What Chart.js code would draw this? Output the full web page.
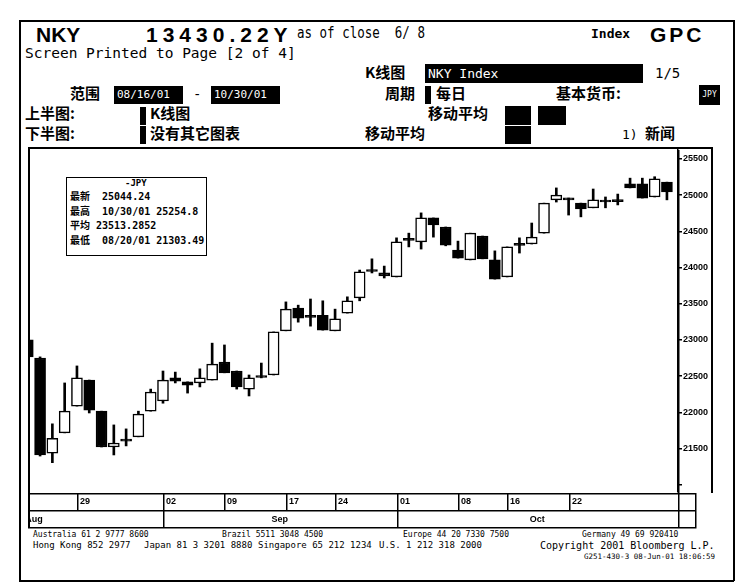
<!DOCTYPE html>
<html>
<head>
<meta charset="utf-8">
<script src="https://cdn.jsdelivr.net/npm/chart.js@4.4.0/dist/chart.umd.min.js"></script>
<style>
body { margin: 0; background: #fff; }
#page { position: relative; width: 750px; height: 588px; overflow: hidden; color: #000;
        font-family: "DejaVu Sans Mono", "Noto Sans CJK SC", monospace; }
#page .t { position: absolute; white-space: nowrap; line-height: 1; }
#page .cn { font-family: "Noto Sans CJK SC", sans-serif; font-weight: 700; font-size: 15px; }
#page .box { position: absolute; background: #000; color: #fff; overflow: hidden; white-space: nowrap; }
#page .ln { position: absolute; background: #000; }
#chart { position: absolute; left: 0; top: 0; }
</style>
</head>
<body>
<div id="page">
  <!-- page frame -->
  <div class="ln" style="left:19px;top:20px;width:715px;height:1.5px"></div>
  <div class="ln" style="left:19px;top:580px;width:715px;height:1.5px"></div>
  <div class="ln" style="left:19px;top:20px;width:1.5px;height:561px"></div>
  <div class="ln" style="left:733px;top:20px;width:1.5px;height:561px"></div>

  <!-- header -->
  <div class="t" style="left:36px;top:23px;font:bold 21px 'Liberation Sans',sans-serif">NKY</div>
  <div class="t" style="left:146px;top:23px;font:bold 21px 'Liberation Sans',sans-serif;letter-spacing:5px">13430.22Y</div>
  <div class="t" style="left:297px;top:26px;font-size:12.5px;transform:scaleY(1.2);transform-origin:top left">as of close&nbsp; 6/ 8</div>
  <div class="t" style="left:591px;top:27px;font-size:13px;font-weight:bold">Index</div>
  <div class="t" style="left:650px;top:23px;font:bold 21px 'Liberation Sans',sans-serif;letter-spacing:3px">GPC</div>
  <div class="t" style="left:25px;top:46px;font-size:14.5px">Screen Printed to Page [2 of 4]</div>

  <div class="t cn" style="left:365px;top:64px">K线图</div>
  <div class="box" style="left:425px;top:64px;width:215px;height:19px;font-size:13px;line-height:19px;padding-left:3px">NKY Index</div>
  <div class="t" style="left:655px;top:66px;font-size:14px">1/5</div>

  <div class="t cn" style="left:70px;top:85px">范围</div>
  <div class="box" style="left:114px;top:86px;width:66px;height:18px;font-size:11px;line-height:18px;padding-left:3px">08/16/01</div>
  <div class="t" style="left:193px;top:87px;font-size:14px">-</div>
  <div class="box" style="left:211px;top:86px;width:66px;height:18px;font-size:11px;line-height:18px;padding-left:3px">10/30/01</div>
  <div class="t cn" style="left:385px;top:85px">周期</div>
  <div class="box" style="left:425px;top:86px;width:6px;height:18px"></div>
  <div class="t cn" style="left:436px;top:85px">每日</div>
  <div class="t cn" style="left:556px;top:85px">基本货币:</div>
  <div class="box" style="left:699px;top:85px;width:21px;height:20px;font-size:8px;line-height:20px;text-align:center">JPY</div>

  <div class="t cn" style="left:25px;top:105px">上半图:</div>
  <div class="box" style="left:140px;top:107px;width:6px;height:18px"></div>
  <div class="t cn" style="left:150px;top:105px">K线图</div>
  <div class="t cn" style="left:428px;top:105px">移动平均</div>
  <div class="box" style="left:505px;top:106px;width:26px;height:19px"></div>
  <div class="box" style="left:538px;top:106px;width:28px;height:19px"></div>

  <div class="t cn" style="left:25px;top:125px">下半图:</div>
  <div class="box" style="left:140px;top:126px;width:6px;height:18px"></div>
  <div class="t cn" style="left:150px;top:125px">没有其它图表</div>
  <div class="t cn" style="left:365px;top:125px">移动平均</div>
  <div class="box" style="left:505px;top:126px;width:26px;height:18px"></div>
  <div class="t" style="left:622px;top:128px;font-size:13px">1)</div>
  <div class="t cn" style="left:645px;top:125px">新闻</div>

  <!-- chart frame -->
  <div class="ln" style="left:28px;top:147px;width:685px;height:1.5px"></div>
  <div class="ln" style="left:28px;top:147px;width:1.5px;height:381px"></div>
  <div class="ln" style="left:711px;top:147px;width:1.5px;height:346px"></div>

  <!-- info box -->
  <div style="position:absolute;left:66px;top:177px;width:139px;height:77px;border:1.5px solid #000"></div>
  <div class="t" style="left:125px;top:179px;font-size:9px;font-weight:bold">-JPY</div>
  <div class="t" style="left:70px;top:192px;font-size:10px;font-weight:bold">最新&nbsp; 25044.24</div>
  <div class="t" style="left:70px;top:207px;font-size:10px;font-weight:bold">最高&nbsp; 10/30/01 25254.8</div>
  <div class="t" style="left:70px;top:221px;font-size:10px;font-weight:bold">平均 23513.2852</div>
  <div class="t" style="left:70px;top:236px;font-size:10px;font-weight:bold">最低&nbsp; 08/20/01 21303.49</div>

  <!-- footer -->
  <div class="t" style="left:33px;top:531px;font-size:8px">Australia 61 2 9777 8600</div>
  <div class="t" style="left:222px;top:531px;font-size:8px">Brazil 5511 3048 4500</div>
  <div class="t" style="left:403px;top:531px;font-size:8px">Europe 44 20 7330 7500</div>
  <div class="t" style="left:582px;top:531px;font-size:8px">Germany 49 69 920410</div>
  <div class="t" style="left:33px;top:541px;font-size:9px">Hong Kong 852 2977</div>
  <div class="t" style="left:144px;top:541px;font-size:9px">Japan 81 3 3201 8880</div>
  <div class="t" style="left:258px;top:541px;font-size:9px">Singapore 65 212 1234</div>
  <div class="t" style="left:379px;top:541px;font-size:9px">U.S. 1 212 318 2000</div>
  <div class="t" style="left:540px;top:541px;font-size:10px">Copyright 2001 Bloomberg L.P.</div>
  <div class="t" style="left:584px;top:553px;font-size:7.5px">G251-430-3 08-Jun-01 18:06:59</div>

  <canvas id="chart" width="750" height="588"></canvas>
</div>

<script>
// daily candles, index 0 is cut by the left edge
var opens  = [23000, 22750, 21435, 21715, 22085, 22445, 22015, 21520, 21600, 21660,
              22015, 22155, 22475, 22420, 22405, 22445, 22695, 22570, 22320, 22480,
              22515, 23125, 23440, 23310, 23340, 23125, 23370, 23580, 23945, 23925,
              23870, 24375, 24355, 24685, 24560, 24240, 24105, 24435, 24105, 23870,
              24305, 24325, 24475, 24935, 24960, 24890, 24825, 24905, 24910, 25155,
              25155, 24975, 25180];
var highs  = [23095, 22765, 21840, 22405, 22640, 22445, 22015, 21825, 21770, 22015,
              22320, 22570, 22555, 22420, 22600, 22955, 22930, 22570, 22515, 22680,
              23110, 23525, 23480, 23565, 23540, 23425, 23595, 23965, 24120, 24020,
              24410, 24475, 24755, 24685, 24560, 24365, 24475, 24435, 24230, 24285,
              24410, 24615, 24890, 25100, 24960, 24890, 25085, 24975, 25015, 25235,
              25235, 25254.8, 25180];
var lows   = [22765, 21395, 21303.49, 21715, 22085, 21990, 21520, 21410, 21535, 21660,
              22015, 22125, 22405, 22265, 22350, 22445, 22545, 22320, 22225, 22475,
              22515, 23125, 23245, 23190, 23135, 23125, 23370, 23540, 23925, 23855,
              23870, 24285, 24255, 24420, 24300, 24130, 24105, 24120, 23840, 23870,
              24200, 24325, 24475, 24905, 24725, 24700, 24825, 24825, 24865, 25100,
              24960, 24975, 24935];
var closes = [22765, 21410, 21640, 22015, 22475, 22030, 21520, 21575, 21600, 21975,
              22280, 22445, 22430, 22375, 22475, 22665, 22545, 22350, 22475, 22480,
              23110, 23425, 23300, 23310, 23135, 23290, 23540, 23940, 23945, 23885,
              24355, 24375, 24685, 24590, 24310, 24130, 24475, 24120, 23840, 24285,
              24305, 24420, 24890, 25000, 24935, 24810, 24935, 24905, 24910, 25100,
              24960, 25225, 25044.24];

// date axis rows
var dayLabels = ['29', '02', '09', '17', '24', '01', '08', '16', '22'];
var dayIndex = [4, 11, 16, 21, 25, 30, 35, 39, 44];
var monthLabels = ['Aug', 'Sep', 'Oct'];
var monthStart = [-10, 11, 30];

// price axis
var yTicks = [21000, 21500, 22000, 22500, 23000, 23500, 24000, 24500, 25000, 25500];
var yTickLabels = ['', '21500', '22000', '22500', '23000', '23500', '24000', '24500', '25000', '25500'];

var wicks = [], bodies = [], bodyColors = [];
for (var i = 0; i < opens.length; i++) {
    wicks.push({x: i, y: [lows[i], highs[i]]});
    bodies.push({x: i, y: [opens[i], closes[i]]});
    bodyColors.push(closes[i] > opens[i] ? '#fff' : '#000');
}

// draws the two date rows under the plot
var dateRows = {
    id: 'dateRows',
    afterDraw: function(chart) {
        var ctx = chart.ctx, xs = chart.scales.x, a = chart.chartArea;
        var top = a.bottom + 1, mid = top + 17, bot = mid + 17, right = 695;
        ctx.save();
        ctx.fillStyle = '#000';
        ctx.fillRect(a.left - 2, top, right - a.left + 2, 1.5);
        ctx.fillRect(a.left - 2, mid, right - a.left + 2, 1.5);
        ctx.fillRect(a.left - 2, bot, right - a.left + 2, 1.5);
        ctx.fillRect(a.right, a.top, 1.5, bot - a.top);
        ctx.fillRect(right, top, 1.5, bot - top + 1.5);

        ctx.font = 'bold 9px "Liberation Sans", sans-serif';
        ctx.textBaseline = 'middle';
        dayLabels.forEach(function(lab, k) {
            var px = Math.round(xs.getPixelForValue(dayIndex[k]));
            ctx.fillRect(px, top, 1.5, 17);
            ctx.fillText(lab, px + 3, top + 9);
        });

        ctx.beginPath();
        ctx.rect(a.left, mid, a.right - a.left, 17);
        ctx.clip();
        ctx.textAlign = 'center';
        monthLabels.forEach(function(lab, k) {
            var x0 = xs.getPixelForValue(monthStart[k]);
            var x1 = k + 1 < monthStart.length ? xs.getPixelForValue(monthStart[k + 1]) : a.right;
            if (k > 0) ctx.fillRect(Math.round(x0), mid, 1.5, 17);
            ctx.fillText(lab, (x0 + x1) / 2, mid + 10);
        });
        ctx.restore();
    }
};

new Chart(document.getElementById('chart'), {
    type: 'bar',
    data: {
        datasets: [{
            label: 'wick',
            data: wicks,
            backgroundColor: '#000',
            barThickness: 2,
            grouped: false,
            clip: 0,
            order: 2
        }, {
            label: 'body',
            data: bodies,
            backgroundColor: bodyColors,
            borderColor: '#000',
            borderWidth: 1.5,
            borderSkipped: false,
            barThickness: 11,
            minBarLength: 2,
            grouped: false,
            clip: 0,
            order: 1
        }]
    },
    options: {
        responsive: false,
        animation: false,
        layout: { padding: { left: 30, top: 150, right: 38, bottom: 96 } },
        plugins: { legend: { display: false }, tooltip: { enabled: false } },
        scales: {
            x: {
                type: 'linear',
                min: 0.18,
                max: 52.9,
                offset: false,
                display: false
            },
            y: {
                position: 'right',
                min: 20898,
                max: 25624,
                afterBuildTicks: function(scale) {
                    scale.ticks = yTicks.map(function(v) { return {value: v}; });
                },
                afterFit: function(scale) { scale.width = 34; },
                border: { display: true, color: '#000', width: 1.5 },
                grid: { drawOnChartArea: false, color: '#000', tickLength: 4, lineWidth: 1.5 },
                ticks: {
                    color: '#000',
                    padding: 1,
                    font: { family: 'Liberation Sans', size: 9, weight: 'bold' },
                    callback: function(v, idx) { return yTickLabels[idx]; }
                }
            }
        }
    },
    plugins: [dateRows]
});
</script>
</body>
</html>
